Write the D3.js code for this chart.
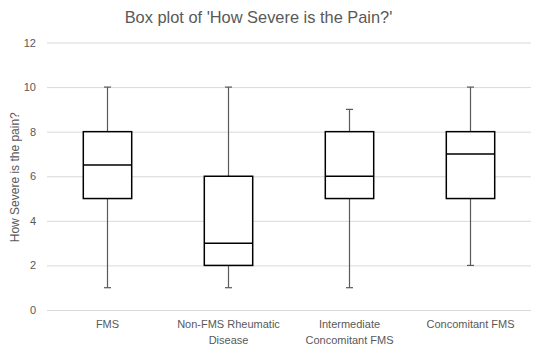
<!DOCTYPE html>
<html>
<head>
<meta charset="utf-8">
<script src="https://cdn.jsdelivr.net/npm/d3@7"></script>
<style>
  body { margin: 0; background: #fff; }
  text { font-family: "Liberation Sans", Arial, sans-serif; }
</style>
</head>
<body>
<div id="chart"></div>
<script>
// categories, each with two label lines
var categories = ["FMS", "Non-FMS Rheumatic Disease", "Intermediate Concomitant FMS", "Concomitant FMS"];
var labelLines = [["FMS"], ["Non-FMS Rheumatic", "Disease"], ["Intermediate", "Concomitant FMS"], ["Concomitant FMS"]];
// five-number summaries
var minValues = [1, 1, 1, 2];
var q1Values = [5, 2, 5, 5];
var medianValues = [6.5, 3, 6, 7];
var q3Values = [8, 6, 8, 8];
var maxValues = [10, 10, 9, 10];
var yTicks = [0, 2, 4, 6, 8, 10, 12];

var width = 544, height = 353;
var padLeft = 47, padRight = 531, padTop = 42.5, padBottom = 310;

var svg = d3.select("#chart")
  .append("svg")
  .attr("width", width)
  .attr("height", height);

var xScale = d3.scaleBand()
  .domain(categories)
  .range([padLeft, padRight])
  .paddingInner(0.6)
  .paddingOuter(0.3);
var yScale = d3.scaleLinear()
  .domain([0, 12])
  .range([padBottom, padTop]);

// title
svg.append("text")
  .attr("x", 258.5)
  .attr("y", 23)
  .attr("text-anchor", "middle")
  .style("font-size", "16.4px")
  .style("fill", "#595959")
  .text("Box plot of 'How Severe is the Pain?'");

// gridlines and y labels
var yAxis = d3.axisLeft(yScale)
  .tickValues(yTicks)
  .tickSize(-(padRight - padLeft))
  .tickPadding(11);
var yAxisGroup = svg.append("g")
  .attr("transform", "translate(" + padLeft + ",0)")
  .call(yAxis);
yAxisGroup.select(".domain").remove();
yAxisGroup.selectAll("line").style("stroke", "#d9d9d9");
yAxisGroup.selectAll("text")
  .style("font-size", "11px")
  .style("fill", "#595959")
  .attr("font-family", null);

// axis title
svg.append("text")
  .attr("transform", "translate(19," + ((padTop + padBottom) / 2 + 1) + ") rotate(-90)")
  .attr("text-anchor", "middle")
  .style("font-size", "12px")
  .style("fill", "#595959")
  .text("How Severe is the pain?");

// x labels
var xLabels = svg.append("g");
categories.forEach(function (c, i) {
  var cx = xScale(c) + xScale.bandwidth() / 2;
  var t = xLabels.append("text")
    .attr("x", cx)
    .attr("y", 328)
    .attr("text-anchor", "middle")
    .style("font-size", "11px")
    .style("fill", "#595959");
  labelLines[i].forEach(function (line, j) {
    t.append("tspan")
      .attr("x", cx)
      .attr("dy", j === 0 ? 0 : 16)
      .text(line);
  });
});

// boxes
var data = categories.map(function (c, i) {
  return { cat: c, min: minValues[i], q1: q1Values[i], med: medianValues[i], q3: q3Values[i], max: maxValues[i] };
});
var boxes = svg.append("g")
  .selectAll("g")
  .data(data)
  .enter()
  .append("g");

function centerX(d) { return xScale(d.cat) + xScale.bandwidth() / 2; }

// whiskers
boxes.append("line")
  .attr("x1", centerX).attr("x2", centerX)
  .attr("y1", function (d) { return yScale(d.max); })
  .attr("y2", function (d) { return yScale(d.q3); })
  .style("stroke", "#595959").style("stroke-width", 1.2);
boxes.append("line")
  .attr("x1", centerX).attr("x2", centerX)
  .attr("y1", function (d) { return yScale(d.q1); })
  .attr("y2", function (d) { return yScale(d.min); })
  .style("stroke", "#595959").style("stroke-width", 1.2);
["min", "max"].forEach(function (k) {
  boxes.append("line")
    .attr("x1", function (d) { return centerX(d) - 3.5; })
    .attr("x2", function (d) { return centerX(d) + 3.5; })
    .attr("y1", function (d) { return yScale(d[k]); })
    .attr("y2", function (d) { return yScale(d[k]); })
    .style("stroke", "#595959").style("stroke-width", 1.2);
});

boxes.append("rect")
  .attr("x", function (d) { return xScale(d.cat); })
  .attr("width", xScale.bandwidth())
  .attr("y", function (d) { return yScale(d.q3); })
  .attr("height", function (d) { return yScale(d.q1) - yScale(d.q3); })
  .style("fill", "#fff")
  .style("stroke", "#000")
  .style("stroke-width", 1.5);
boxes.append("line")
  .attr("x1", function (d) { return xScale(d.cat); })
  .attr("x2", function (d) { return xScale(d.cat) + xScale.bandwidth(); })
  .attr("y1", function (d) { return yScale(d.med); })
  .attr("y2", function (d) { return yScale(d.med); })
  .style("stroke", "#000")
  .style("stroke-width", 1.5);
</script>
</body>
</html>
